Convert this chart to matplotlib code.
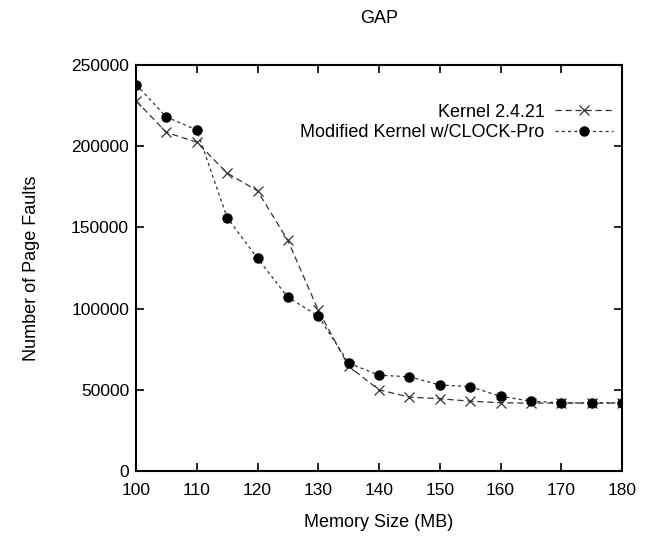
import matplotlib

matplotlib.use("Agg")
import matplotlib.pyplot as plt

plt.rcParams["font.family"] = ["Liberation Sans Narrow", "Liberation Sans", "DejaVu Sans"]

memory_mb = [100, 105, 110, 115, 120, 125, 130, 135, 140, 145, 150, 155, 160, 165, 170, 175, 180]
kernel_faults = [228000, 208500, 202500, 183500, 172500, 142000, 99000, 64500, 50000,
                 45500, 44500, 43000, 42000, 41800, 41800, 41800, 41800]
clock_pro_faults = [238000, 218000, 210000, 156000, 131000, 107000, 95500, 66500, 59000,
                    58000, 53000, 52000, 46000, 43000, 42000, 42000, 42000]

x_ticks = [100, 110, 120, 130, 140, 150, 160, 170, 180]
y_ticks = [0, 50000, 100000, 150000, 200000, 250000]

fig = plt.figure(figsize=(6.51, 5.42), dpi=100)
ax = fig.add_axes([0.2089, 0.131, 0.9555 - 0.2089, 0.880 - 0.131])

ax.plot(memory_mb, kernel_faults, color="#333333", linewidth=0.9, linestyle=(0, (5, 3)),
        marker="x", markersize=7, markeredgewidth=0.9, markeredgecolor="#333333",
        label="Kernel 2.4.21")
ax.plot(memory_mb, clock_pro_faults, color="#333333", linewidth=0.9, linestyle=(0, (2.5, 2.5)),
        marker="o", markersize=6.5, markerfacecolor="black", markeredgecolor="black",
        label="Modified Kernel w/CLOCK-Pro")

ax.set_xlim(100, 180)
ax.set_ylim(0, 250000)
ax.set_xticks(x_ticks)
ax.set_yticks(y_ticks)
ax.tick_params(direction="in", length=6, width=1.2, top=True, right=True, labelsize=12.5)
ax.tick_params(axis="x", pad=9)
ax.tick_params(axis="y", pad=5)
for spine in ax.spines.values():
    spine.set_linewidth(1.5)

ax.set_xlabel("Memory Size (MB)", fontsize=13, labelpad=11)
ax.set_ylabel("Number of Page Faults", fontsize=13, labelpad=22)
ax.set_title("GAP", fontsize=13, pad=30)

ax.legend(loc="upper right", bbox_to_anchor=(1.015, 0.945), frameon=False, markerfirst=False,
          fontsize=13, handlelength=3.2, handletextpad=0.6, labelspacing=0.2)

fig.savefig("out.png", dpi=100)
